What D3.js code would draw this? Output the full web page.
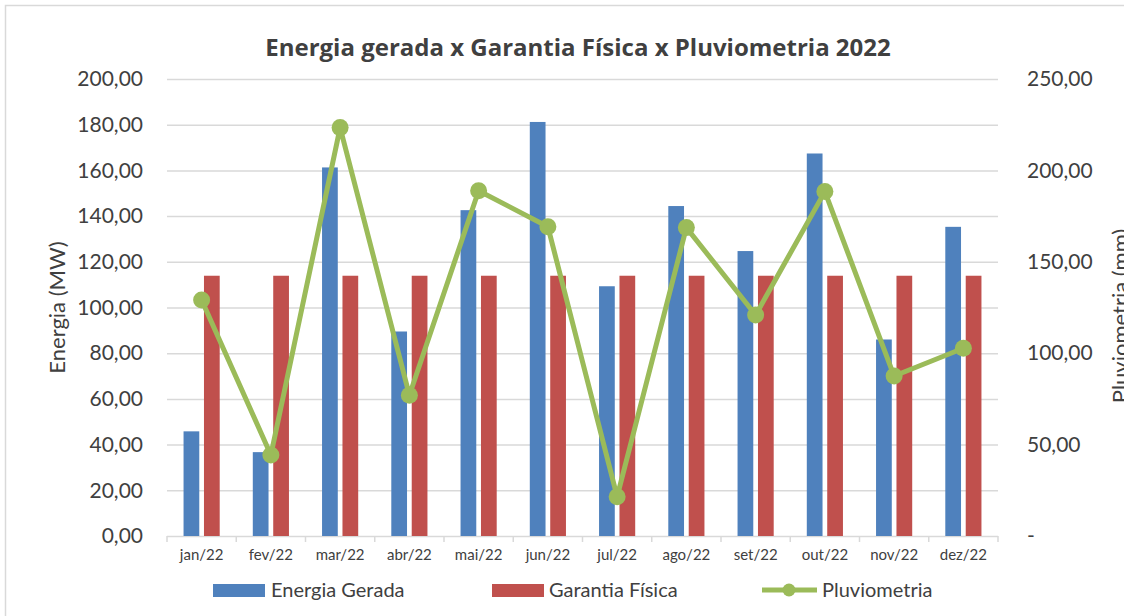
<!DOCTYPE html>
<html>
<head>
<meta charset="utf-8">
<script src="https://cdn.jsdelivr.net/npm/d3@7"></script>
<style>
  body { margin: 0; background: #fff; }
  text { font-family: Lato, "Open Sans", sans-serif; fill: #404040; }
</style>
</head>
<body>
<div id="chart"></div>
<script>
// chart data
var months = ["jan/22", "fev/22", "mar/22", "abr/22", "mai/22", "jun/22",
  "jul/22", "ago/22", "set/22", "out/22", "nov/22", "dez/22"];
var energiaGerada = [45.8, 36.7, 161.3, 89.5, 142.6, 181.2, 109.3, 144.4, 124.7, 167.4, 86.0, 135.3];
var garantiaFisica = [113.9, 113.9, 113.9, 113.9, 113.9, 113.9, 113.9, 113.9, 113.9, 113.9, 113.9, 113.9];
var pluviometria = [129.1, 44.3, 223.4, 77.0, 188.9, 169.2, 21.5, 168.7, 120.9, 188.4, 87.5, 102.7];
var leftTicks = [0, 20, 40, 60, 80, 100, 120, 140, 160, 180, 200];
var rightTicks = [0, 50, 100, 150, 200, 250];

var svgWidth = 1124;
var svgHeight = 616;

var plot = { left: 167, right: 998, top: 79, bottom: 536 };

var colors = { energia: "#4F81BD", garantia: "#C0504D", pluv: "#9BBB59", grid: "#D9D9D9" };

var ptBR = d3.formatLocale({ decimal: ",", thousands: ".", grouping: [3], currency: ["R$", ""] });
var fmt = ptBR.format(",.2f");

var svg = d3.select("#chart")
  .append("svg")
  .attr("width", svgWidth)
  .attr("height", svgHeight);

// outer chart border
svg.append("rect")
  .attr("x", 5.5)
  .attr("y", 5.5)
  .attr("width", 1300)
  .attr("height", 800)
  .attr("fill", "#fff")
  .attr("stroke", colors.grid)
  .attr("stroke-width", 1.5);

// scales
var xScale = d3.scaleBand()
  .domain(months)
  .range([plot.left, plot.right])
  .padding(0);

var xSub = d3.scaleBand()
  .domain(["energia", "garantia"])
  .range([0, xScale.bandwidth()])
  .paddingInner(0.23)
  .paddingOuter(0.81);

var yLeft = d3.scaleLinear().domain([0, 200]).range([plot.bottom, plot.top]);
var yRight = d3.scaleLinear().domain([0, 250]).range([plot.bottom, plot.top]);

// gridlines + left labels
var leftAxis = d3.axisLeft(yLeft)
  .tickValues(leftTicks)
  .tickSize(-(plot.right - plot.left))
  .tickPadding(24)
  .tickFormat(fmt);

var gLeft = svg.append("g")
  .attr("transform", `translate(${plot.left}, 0)`)
  .call(leftAxis);
gLeft.select(".domain").remove();
gLeft.selectAll(".tick line").attr("stroke", colors.grid).attr("stroke-width", 1.5);
gLeft.selectAll(".tick text")
  .attr("font-size", "21px")
  .attr("fill", "#404040")
  .style("font-family", "Lato, sans-serif");

// right labels
var rightAxis = d3.axisRight(yRight)
  .tickValues(rightTicks)
  .tickSize(0)
  .tickPadding(29)
  .tickFormat(d => d === 0 ? "-" : fmt(d));

var gRight = svg.append("g")
  .attr("transform", `translate(${plot.right}, 0)`)
  .call(rightAxis);
gRight.select(".domain").remove();
gRight.selectAll(".tick text")
  .attr("font-size", "21px")
  .attr("fill", "#404040")
  .style("font-family", "Lato, sans-serif");

// x axis tick marks at category boundaries
var bounds = months.map(m => xScale(m)).concat([plot.right]);
svg.append("g")
  .selectAll("line")
  .data(bounds)
  .enter()
  .append("line")
  .attr("x1", d => d)
  .attr("x2", d => d)
  .attr("y1", plot.bottom)
  .attr("y2", plot.bottom + 6)
  .attr("stroke", colors.grid)
  .attr("stroke-width", 1.5);

var xAxis = d3.axisBottom(xScale).tickSize(0).tickPadding(13);
var gX = svg.append("g")
  .attr("transform", `translate(0, ${plot.bottom})`)
  .call(xAxis);
gX.select(".domain").remove();
gX.selectAll(".tick text")
  .attr("font-size", "15px")
  .attr("fill", "#404040")
  .style("font-family", "Lato, sans-serif");

// bars
var barsGroup = svg.append("g");

barsGroup.selectAll(".bar-energia")
  .data(months)
  .enter()
  .append("rect")
  .attr("class", "bar-energia")
  .attr("x", (d, i) => xScale(d) + xSub("energia"))
  .attr("y", (d, i) => yLeft(energiaGerada[i]))
  .attr("width", xSub.bandwidth())
  .attr("height", (d, i) => yLeft(0) - yLeft(energiaGerada[i]))
  .attr("fill", colors.energia);

barsGroup.selectAll(".bar-garantia")
  .data(months)
  .enter()
  .append("rect")
  .attr("class", "bar-garantia")
  .attr("x", (d, i) => xScale(d) + xSub("garantia"))
  .attr("y", (d, i) => yLeft(garantiaFisica[i]))
  .attr("width", xSub.bandwidth())
  .attr("height", (d, i) => yLeft(0) - yLeft(garantiaFisica[i]))
  .attr("fill", colors.garantia);

// pluviometria line
var line = d3.line()
  .x((d, i) => xScale(months[i]) + xScale.bandwidth() / 2)
  .y(d => yRight(d));

svg.append("path")
  .datum(pluviometria)
  .attr("d", line)
  .attr("fill", "none")
  .attr("stroke", colors.pluv)
  .attr("stroke-width", 5)
  .attr("stroke-linejoin", "round");

svg.append("g")
  .selectAll("circle")
  .data(pluviometria)
  .enter()
  .append("circle")
  .attr("cx", (d, i) => xScale(months[i]) + xScale.bandwidth() / 2)
  .attr("cy", d => yRight(d))
  .attr("r", 8.5)
  .attr("fill", colors.pluv);

// title
svg.append("text")
  .attr("x", 578)
  .attr("y", 56)
  .attr("text-anchor", "middle")
  .attr("font-size", "24px")
  .attr("font-weight", "bold")
  .style("font-family", "'Open Sans', sans-serif")
  .text("Energia gerada x Garantia Física x Pluviometria 2022");

// axis titles
svg.append("text")
  .attr("transform", `translate(65, ${(plot.top + plot.bottom) / 2}) rotate(-90)`)
  .attr("text-anchor", "middle")
  .attr("font-size", "22px")
  .text("Energia (MW)");

svg.append("text")
  .attr("transform", `translate(1128, 316) rotate(-90)`)
  .attr("text-anchor", "middle")
  .attr("font-size", "22px")
  .text("Pluviometria (mm)");

// legend
var legend = svg.append("g");

legend.append("rect")
  .attr("x", 213).attr("y", 584).attr("width", 52).attr("height", 13)
  .attr("fill", colors.energia);
legend.append("text")
  .attr("x", 271).attr("y", 597).attr("font-size", "20px")
  .text("Energia Gerada");

legend.append("rect")
  .attr("x", 492).attr("y", 584).attr("width", 52).attr("height", 13)
  .attr("fill", colors.garantia);
legend.append("text")
  .attr("x", 549).attr("y", 597).attr("font-size", "20px")
  .text("Garantia Física");

legend.append("line")
  .attr("x1", 762).attr("x2", 817).attr("y1", 590).attr("y2", 590)
  .attr("stroke", colors.pluv).attr("stroke-width", 5);
legend.append("circle")
  .attr("cx", 789).attr("cy", 590).attr("r", 6.5)
  .attr("fill", colors.pluv);
legend.append("text")
  .attr("x", 822).attr("y", 597).attr("font-size", "20px")
  .text("Pluviometria");
</script>
</body>
</html>
